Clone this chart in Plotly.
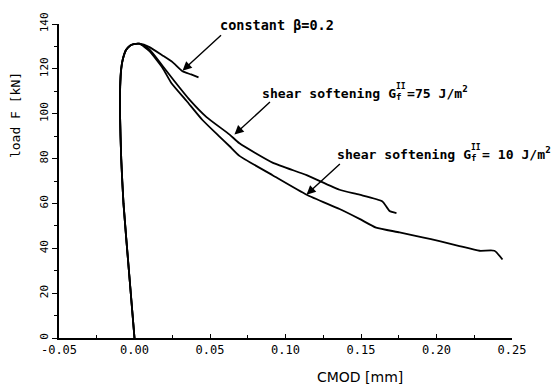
import plotly.graph_objects as go

# shared rising (pre-peak) branch
rise_cmod = [0.0, -0.0037, -0.0073, -0.0088, -0.0096, -0.0095, -0.0088, -0.0077, -0.0055, -0.0030, -0.0005, 0.0033]
rise_load = [0, 30, 60, 80, 100, 112, 120, 124.4, 128.5, 130.3, 131.0, 131.2]

# constant beta = 0.2 (post-peak)
beta_cmod = [0.0099, 0.0185, 0.0252, 0.0318, 0.0375, 0.0424]
beta_load = [129.7, 126.0, 123.0, 118.9, 117.5, 116.2]

# shear softening G = 75 J/m2 (post-peak)
s75_cmod = [0.0099, 0.0185, 0.0265, 0.0364, 0.0477, 0.0630, 0.0695, 0.0914, 0.114, 0.1358, 0.149, 0.1642, 0.1689, 0.1735]
s75_load = [128.7, 121.4, 114.5, 106.3, 98.5, 90.7, 86.8, 78.2, 72.6, 66.1, 63.9, 60.9, 56.6, 55.7]

# shear softening G = 10 J/m2 (post-peak)
s10_cmod = [0.0099, 0.0185, 0.0245, 0.0344, 0.045, 0.0563, 0.063, 0.0695, 0.0914, 0.114, 0.1358, 0.149, 0.160, 0.1755, 0.1907, 0.202, 0.2152, 0.2285, 0.2384, 0.2437]
s10_load = [127.9, 120.5, 113.6, 105.8, 97.2, 89.8, 85.5, 81.2, 72.6, 63.9, 57.5, 53.1, 49.2, 47.1, 44.9, 43.2, 41.0, 38.9, 38.9, 35.0]

x_ticks = [-0.05, 0.0, 0.05, 0.10, 0.15, 0.20, 0.25]
x_ticklabels = ["-0.05", "0.00", "0.05", "0.10", "0.15", "0.20", "0.25"]
y_ticks = [0, 20, 40, 60, 80, 100, 120, 140]

LW = 1.8
fig = go.Figure()
for cm, ld in [(beta_cmod, beta_load), (s75_cmod, s75_load), (s10_cmod, s10_load)]:
    fig.add_trace(go.Scatter(x=rise_cmod + cm, y=rise_load + ld, mode="lines",
                             line=dict(color="black", width=LW, shape="spline", smoothing=0.5),
                             showlegend=False, hoverinfo="skip"))

mono = "DejaVu Sans Mono"
FS = 13.5
FS2 = 13.1
CW2 = 0.602 * FS2
txt_font = dict(family=mono, size=FS, color="black")
txt_font2 = dict(family=mono, size=FS2, color="black")
sup_font = dict(family=mono, size=8, color="black")
ann = []
# text labels
ann.append(dict(x=0.055, y=139.5, xref="x", yref="y", text="<b>constant β=0.2</b>", showarrow=False,
                xanchor="left", yanchor="middle", font=txt_font))
for (lx, ly, rest) in [(0.0828, 109.3, "=75 J/m"), (0.1325, 82.1, "= 10 J/m")]:
    ann.append(dict(x=lx, y=ly, xref="x", yref="y",
                    text="<b>shear softening G<sub>f </sub>" + rest + "<sup>2</sup></b>", showarrow=False,
                    xanchor="left", yanchor="middle", font=txt_font2))
    ann.append(dict(x=lx, y=ly, xref="x", yref="y", text="<b>II</b>", showarrow=False,
                    xanchor="left", yanchor="middle", xshift=17 * CW2, yshift=6, font=sup_font))
# arrows
for (tx, ty, hx, hy) in [(0.0583, 135.6, 0.0318, 119.2), (0.0907, 105.8, 0.0662, 90.7), (0.137, 78.2, 0.1139, 63.9)]:
    ann.append(dict(x=hx, y=hy, ax=tx, ay=ty, xref="x", yref="y", axref="x", ayref="y", text="",
                    showarrow=True, arrowhead=2, arrowsize=1.3, arrowwidth=1.4, arrowcolor="black"))
# axis titles
ann.append(dict(x=0.664, y=0, xref="paper", yref="paper", yshift=-39, text="CMOD [mm]", showarrow=False,
                xanchor="center", yanchor="middle", font=dict(family="DejaVu Sans", size=14, color="black")))
ann.append(dict(x=0, y=0.71, xref="paper", yref="paper", xshift=-44, text="load F [kN]", showarrow=False,
                textangle=-90, xanchor="center", yanchor="middle", font=dict(family=mono, size=13, color="black")))

fig.update_layout(
    width=556, height=389,
    margin=dict(l=59, r=44, t=14, b=51),
    paper_bgcolor="white", plot_bgcolor="white",
    annotations=ann,
    xaxis=dict(range=[-0.05, 0.25], tickvals=x_ticks, ticktext=x_ticklabels,
               showline=True, linecolor="black", linewidth=1.8, showgrid=False, zeroline=False,
               ticks="inside", ticklen=4, tickwidth=1.2, tickcolor="black",
               minor=dict(dtick=0.025, tick0=0, ticks="inside", ticklen=3, tickcolor="black", tickwidth=1),
               tickfont=dict(family=mono, size=12, color="black")),
    yaxis=dict(range=[0, 140], tickvals=y_ticks, tickangle=-90,
               showline=True, linecolor="black", linewidth=1.8, showgrid=False, zeroline=False,
               ticks="outside", ticklen=5, tickwidth=1.2, tickcolor="black",
               minor=dict(dtick=10, tick0=0, ticks="outside", ticklen=3, tickcolor="black", tickwidth=1),
               tickfont=dict(family=mono, size=11, color="black")),
)
fig.write_html("out.html", config={"displayModeBar": False},
               post_script="document.body.style.margin='0';document.body.style.overflow='hidden';")
